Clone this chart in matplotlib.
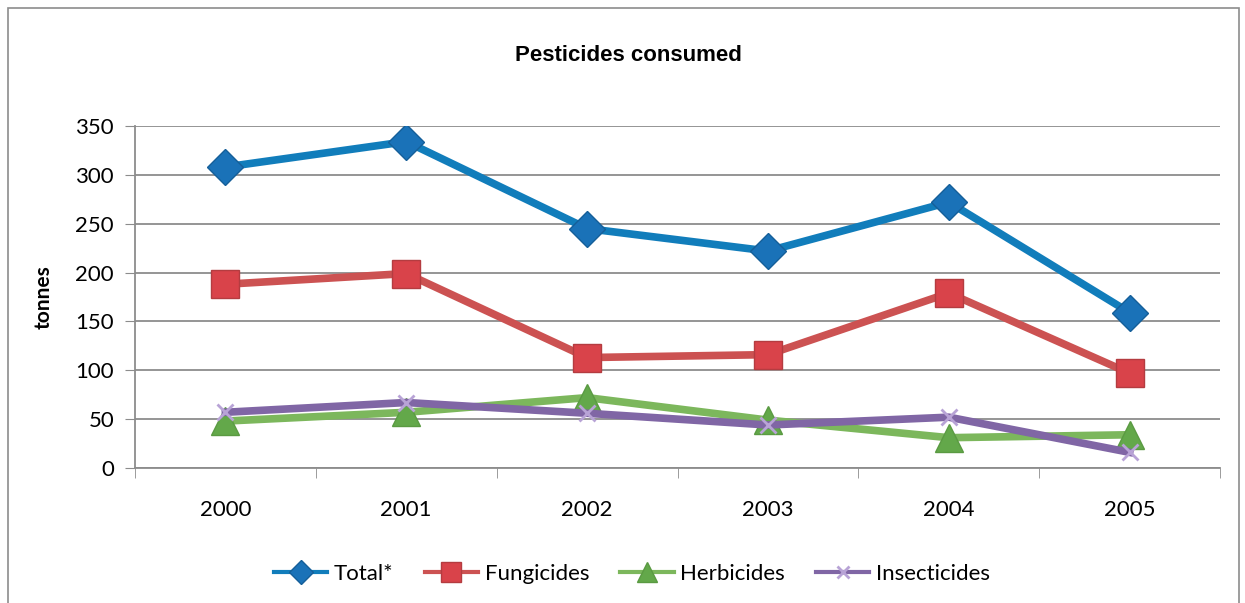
import matplotlib.pyplot as plt
from matplotlib.patches import Rectangle

# datos
years = ['2000', '2001', '2002', '2003', '2004', '2005']
total = [308, 334, 245, 222, 272, 159]
fungicides = [188, 199, 113, 116, 179, 97]
herbicides = [48, 57, 72, 49, 31, 34]
insecticides = [57, 67, 56, 44, 52, 16]

plt.rcParams['font.family'] = ['Lato', 'DejaVu Sans']

fig = plt.figure(figsize=(12.45, 6.03), dpi=100)
ax = fig.add_axes([0.1084, 0.2239, 0.8716, 0.5672])

# marco exterior del grafico
fig.patches.append(Rectangle((8 / 1245, -0.1), 1231 / 1245, 1.1 - 8 / 603,
                             transform=fig.transFigure, fill=False,
                             edgecolor='#8c8c8c', linewidth=1.2))

x = range(len(years))
ax.plot(x, total, color='#117DBB', lw=5.5, marker='D', ms=18,
        mfc='#1a72b8', mec='#155f99', label='Total*', zorder=4)
ax.plot(x, fungicides, color='#CC5252', lw=5.5, marker='s', ms=20,
        mfc='#d9434a', mec='#b43c40', label='Fungicides', zorder=4)
ax.plot(x, herbicides, color='#7CB75C', lw=5.5, marker='^', ms=20,
        mfc='#63a84a', mec='#5a9a42', label='Herbicides', zorder=3)
ax.plot(x, insecticides, color='#8066A5', lw=5.5, marker='x', ms=12,
        mec='#b8a3d6', mew=2, label='Insecticides', zorder=3)

ax.set_xlim(-0.5, 5.5)
ax.set_ylim(0, 350)
ax.set_yticks(range(0, 351, 50))
ax.set_xticks(x)
ax.set_xticklabels(years)
ax.set_xticks([i - 0.5 for i in range(7)], minor=True)
ax.tick_params(axis='x', which='major', length=0, pad=23, labelsize=16)
ax.tick_params(axis='x', which='minor', length=7, color='#8c8c8c', direction='out')
ax.tick_params(axis='y', length=7, color='#8c8c8c', labelsize=16, pad=8)
ax.grid(axis='y', color='#8c8c8c', lw=1.3)
ax.set_axisbelow(True)
for s in ['top', 'right']:
    ax.spines[s].set_visible(False)
for s in ['left', 'bottom']:
    ax.spines[s].set_color('#8c8c8c')
    ax.spines[s].set_linewidth(1.3)

ax.set_ylabel('tonnes', fontsize=15, fontweight='bold', labelpad=16)
fig.text(0.505, 0.908, 'Pesticides consumed', ha='center', va='center',
         fontsize=16, fontweight='bold', family='Liberation Sans')

leg = ax.legend(loc='center', bbox_to_anchor=(0.458, -0.31), ncol=4,
                frameon=False, fontsize=16, handlelength=2.4,
                columnspacing=1.4, handletextpad=0.3, markerscale=0.7)
for line in leg.get_lines():
    line.set_linewidth(3)

fig.savefig('out.png', dpi=100)
